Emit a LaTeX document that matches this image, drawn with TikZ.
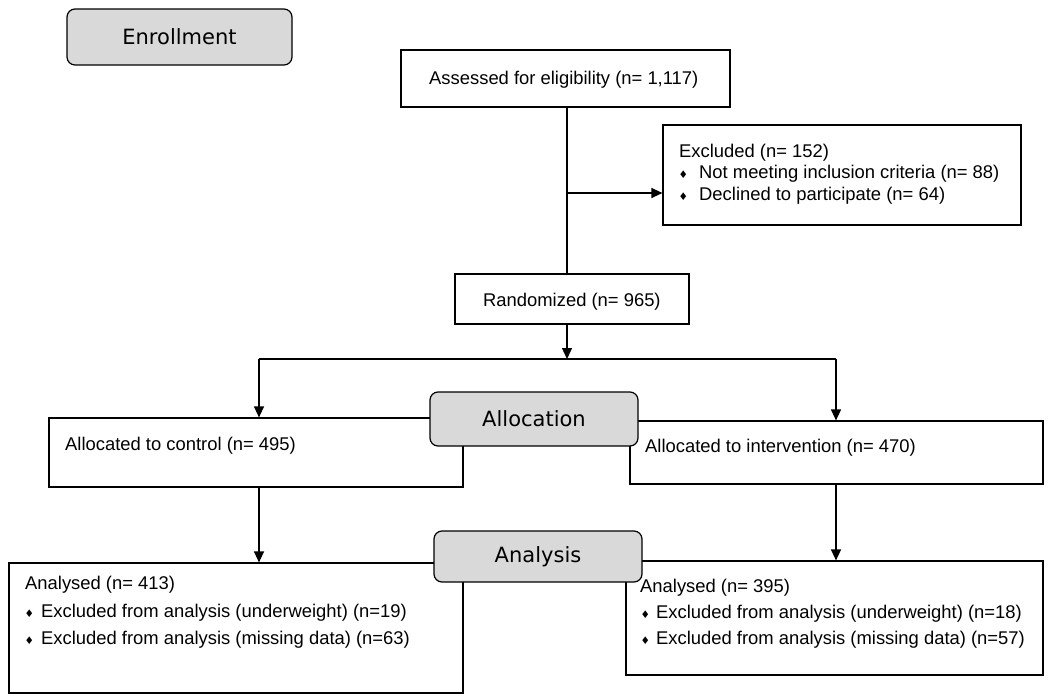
\documentclass[tikz,border=0pt]{standalone}
\usepackage{fontspec}
\setmainfont{Liberation Sans}
\newfontfamily\labfont{DejaVu Sans}
\usetikzlibrary{arrows.meta}
\definecolor{boxgray}{HTML}{D9D9D9}
\tikzset{
  plainbox/.style={draw=black, line width=1.2pt, fill=white, inner sep=0pt},
  stagebox/.style={draw=black, line width=1.2pt, fill=boxgray, rounded corners=8pt, inner sep=0pt,
     font=\labfont\fontsize{21}{24}\selectfont},
  txt/.style={anchor=base west, inner sep=0pt, font=\fontsize{18.4}{22}\selectfont},
  bul/.style={anchor=base west, inner sep=0pt, font=\labfont\fontsize{10.5}{11}\selectfont},
  conn/.style={line width=1.3pt},
  arr/.style={line width=1.3pt, -{Triangle[length=11pt,width=10pt]}}
}
\begin{document}
\begin{tikzpicture}[x=1pt,y=-1pt]
\useasboundingbox (0,0) rectangle (1050,699);
% white boxes
\node[plainbox, minimum width=329pt, minimum height=57pt] (assess) at (565.5,78.5) {};
\node[plainbox, minimum width=358pt, minimum height=100pt] (excl) at (842,175) {};
\node[plainbox, minimum width=234pt, minimum height=50pt] (rand) at (572,299) {};
\node[plainbox, minimum width=414pt, minimum height=69pt] (ctrl) at (256,452.5) {};
\node[plainbox, minimum width=413pt, minimum height=63pt] (interv) at (836.5,452.5) {};
\node[plainbox, minimum width=454pt, minimum height=130pt] (lanal) at (236,628) {};
\node[plainbox, minimum width=417pt, minimum height=114pt] (ranal) at (834.5,618) {};
% connector points
\coordinate (trunk) at (567,193);
\coordinate (split) at (567,359);
\coordinate (cL) at (259,359);
\coordinate (cR) at (836,359);
% connectors
\draw[conn] (assess.south -| trunk) -- (rand.north -| trunk);
\draw[arr] (trunk) -- (excl.west |- trunk);
\draw[arr] (rand.south -| split) -- (split);
\draw[conn] (cL) -- (cR);
\draw[arr] (cL) -- (cL |- ctrl.north);
\draw[arr] (cR) -- (cR |- interv.north);
\draw[arr] (ctrl.south -| cL) -- (lanal.north -| cL);
\draw[arr] (interv.south -| cR) -- (ranal.north -| cR);
% stage boxes
\node[stagebox, minimum width=225pt, minimum height=56pt] (enr) at (179.5,37) {Enrollment};
\node[stagebox, minimum width=208pt, minimum height=54pt] (alloc) at (534,419) {Allocation};
\node[stagebox, minimum width=208pt, minimum height=51pt] (anal) at (538,556.5) {Analysis};
% texts
\node[txt] (tassess) at (429,84) {Assessed for eligibility (n= 1,117)};
\node[txt] (texcl) at (679,157) {Excluded (n= 152)};
\node[bul] (b1) at (678.5,178) {♦};
\node[txt] (texcl1) at (699,178) {Not meeting inclusion criteria (n= 88)};
\node[bul] (b2) at (678.5,200) {♦};
\node[txt] (texcl2) at (699,200) {Declined to participate (n= 64)};
\node[txt] (trand) at (483,306) {Randomized (n= 965)};
\node[txt] (tctrl) at (65,450) {Allocated to control (n= 495)};
\node[txt] (tinterv) at (645,452) {Allocated to intervention (n= 470)};
\node[txt] (tla) at (25,589) {Analysed (n= 413)};
\node[bul] (b3) at (24.5,617) {♦};
\node[txt] (tla1) at (41,617) {Excluded from analysis (underweight) (n=19)};
\node[bul] (b4) at (24.5,644) {♦};
\node[txt] (tla2) at (41,644) {Excluded from analysis (missing data) (n=63)};
\node[txt] (tra) at (640,592) {Analysed (n= 395)};
\node[bul] (b5) at (640.5,618) {♦};
\node[txt] (tra1) at (656,618) {Excluded from analysis (underweight) (n=18)};
\node[bul] (b6) at (640.5,644) {♦};
\node[txt] (tra2) at (656,644) {Excluded from analysis (missing data) (n=57)};
\end{tikzpicture}
\end{document}
